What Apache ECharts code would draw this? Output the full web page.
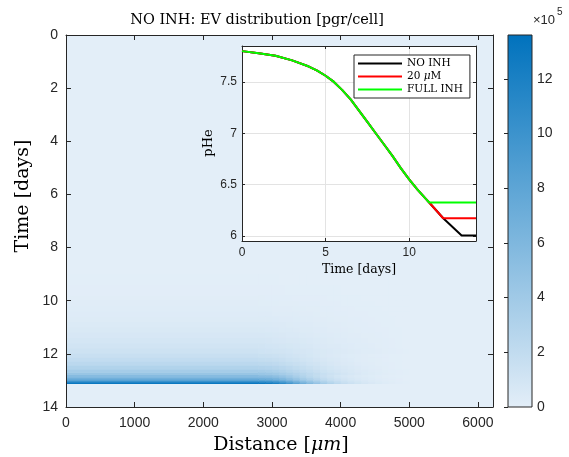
<!DOCTYPE html>
<html>
<head>
<meta charset="utf-8">
<script src="https://cdn.jsdelivr.net/npm/echarts@6/dist/echarts.min.js"></script>
<style>
html,body{margin:0;padding:0;background:#fff;}
#chart{width:569px;height:457px;}
</style>
</head>
<body>
<div id="chart"></div>
<script>
// ---------------- DATA ----------------
// Heatmap: EV distribution (x10^5 pgr/cell). Column edges (um) and row edges (days).
const distEdges = [0, 2800, 2900, 3000, 3100, 3200, 3300, 3400, 3500, 3600, 3700, 3800, 3900,
                   4000, 4100, 4200, 4300, 4400, 4500, 4600, 4700, 4800, 4900, 5000, 6220];
const timeEdges = [9.0, 9.4, 9.8, 10.0, 10.2, 10.4, 10.6, 10.8, 11.0, 11.2, 11.4, 11.6, 11.8, 12.0,
                   12.15, 12.3, 12.45, 12.6, 12.7, 12.8, 12.9, 12.96, 13.02, 13.07, 13.12];
const evValues = [
  [0.03,0.03,0.03,0.03,0.02,0.02,0.02,0.02,0.02,0.02,0.01,0.01,0.01,0.01,0.01,0.01,0.01,0,0,0,0,0,0,0],
  [0.07,0.07,0.07,0.06,0.06,0.05,0.05,0.04,0.04,0.04,0.03,0.03,0.03,0.02,0.02,0.02,0.01,0.01,0.01,0.01,0,0,0,0],
  [0.12,0.12,0.11,0.11,0.10,0.09,0.08,0.08,0.07,0.06,0.06,0.05,0.04,0.04,0.03,0.03,0.02,0.02,0.02,0.01,0.01,0.01,0,0],
  [0.17,0.16,0.16,0.15,0.14,0.13,0.12,0.11,0.10,0.09,0.08,0.07,0.06,0.05,0.05,0.04,0.03,0.03,0.02,0.02,0.01,0.01,0,0],
  [0.23,0.22,0.21,0.20,0.19,0.17,0.16,0.15,0.13,0.12,0.11,0.09,0.08,0.07,0.06,0.05,0.04,0.04,0.03,0.02,0.02,0.01,0,0],
  [0.30,0.29,0.28,0.26,0.25,0.23,0.21,0.19,0.17,0.16,0.14,0.12,0.11,0.09,0.08,0.07,0.06,0.05,0.04,0.03,0.02,0.02,0.01,0],
  [0.38,0.37,0.35,0.33,0.31,0.29,0.27,0.24,0.22,0.20,0.17,0.16,0.14,0.12,0.10,0.09,0.07,0.06,0.05,0.04,0.03,0.02,0.01,0],
  [0.48,0.47,0.45,0.42,0.39,0.36,0.34,0.31,0.28,0.25,0.22,0.20,0.17,0.15,0.13,0.11,0.09,0.08,0.06,0.05,0.03,0.02,0.01,0],
  [0.60,0.58,0.56,0.53,0.49,0.46,0.42,0.38,0.35,0.31,0.28,0.25,0.22,0.19,0.16,0.14,0.11,0.10,0.08,0.06,0.04,0.03,0.01,0],
  [0.74,0.72,0.69,0.65,0.61,0.56,0.52,0.47,0.43,0.38,0.34,0.30,0.27,0.23,0.20,0.17,0.14,0.12,0.10,0.07,0.05,0.04,0.01,0],
  [0.90,0.87,0.84,0.79,0.74,0.68,0.63,0.58,0.52,0.47,0.41,0.37,0.32,0.28,0.24,0.21,0.17,0.14,0.12,0.09,0.06,0.05,0.02,0],
  [1.08,1.05,1.00,0.95,0.89,0.82,0.76,0.69,0.63,0.56,0.50,0.44,0.39,0.33,0.29,0.25,0.21,0.17,0.14,0.11,0.08,0.05,0.02,0],
  [1.30,1.26,1.21,1.14,1.07,0.99,0.91,0.83,0.75,0.68,0.60,0.53,0.47,0.40,0.35,0.30,0.25,0.21,0.17,0.13,0.09,0.07,0.03,0],
  [1.60,1.57,1.52,1.44,1.33,1.20,1.07,0.94,0.82,0.70,0.59,0.50,0.42,0.34,0.27,0.22,0.17,0.13,0.10,0.07,0.04,0.03,0.01,0],
  [1.95,1.91,1.85,1.76,1.62,1.46,1.31,1.15,0.99,0.86,0.72,0.60,0.51,0.41,0.33,0.26,0.20,0.16,0.12,0.08,0.05,0.03,0.01,0],
  [2.40,2.35,2.28,2.16,1.99,1.80,1.61,1.42,1.22,1.06,0.89,0.74,0.62,0.50,0.41,0.32,0.25,0.19,0.14,0.10,0.07,0.04,0.02,0],
  [3.00,2.94,2.85,2.70,2.49,2.25,2.01,1.77,1.53,1.32,1.11,0.93,0.78,0.63,0.51,0.41,0.32,0.24,0.18,0.13,0.08,0.05,0.02,0],
  [3.70,3.63,3.52,3.33,3.07,2.78,2.48,2.18,1.89,1.63,1.37,1.15,0.96,0.78,0.63,0.50,0.39,0.30,0.22,0.16,0.10,0.06,0.03,0],
  [4.50,4.41,4.28,4.05,3.74,3.38,3.02,2.66,2.30,1.98,1.67,1.40,1.17,0.95,0.77,0.61,0.47,0.36,0.27,0.19,0.13,0.07,0.03,0],
  [5.60,5.54,5.43,5.15,4.70,4.14,3.53,2.97,2.46,2.02,1.62,1.29,1.01,0.78,0.62,0.48,0.36,0.27,0.20,0.13,0.08,0.04,0.02,0],
  [6.90,6.83,6.69,6.35,5.80,5.11,4.35,3.66,3.04,2.48,2.00,1.59,1.24,0.97,0.76,0.59,0.45,0.33,0.24,0.17,0.10,0.06,0.02,0],
  [8.30,8.22,8.05,7.64,6.97,6.14,5.23,4.40,3.65,2.99,2.41,1.91,1.49,1.16,0.91,0.71,0.54,0.40,0.29,0.20,0.12,0.07,0.02,0],
  [10.2,10.1,9.89,9.38,8.57,7.55,6.43,5.41,4.49,3.67,2.96,2.35,1.84,1.43,1.12,0.87,0.66,0.49,0.36,0.24,0.15,0.08,0.03,0],
  [13.0,12.9,12.6,12.0,10.9,9.62,8.19,6.89,5.72,4.68,3.77,2.99,2.34,1.82,1.43,1.11,0.85,0.62,0.46,0.31,0.20,0.10,0.04,0]
];
const colorMax = 13.6;            // x10^5
const colorbarTicks = [0, 2, 4, 6, 8, 10, 12];

// Inset: pHe vs time
const noInhTime  = [0,1,2,3,4,4.5,5,5.5,6,6.5,7,7.5,8,8.5,9,9.5,10,10.5,11,11.2,12.04,13.14,14];
const noInhPHe   = [7.80,7.78,7.755,7.71,7.65,7.61,7.56,7.50,7.42,7.33,7.22,7.11,7.00,6.89,6.78,6.66,6.55,6.45,6.36,6.325,6.172,6.004,6.004];
const uM20Time   = [0,1,2,3,4,4.5,5,5.5,6,6.5,7,7.5,8,8.5,9,9.5,10,10.5,11,11.2,12.04,14];
const uM20PHe    = [7.80,7.78,7.755,7.71,7.65,7.61,7.56,7.50,7.42,7.33,7.22,7.11,7.00,6.89,6.78,6.66,6.55,6.45,6.36,6.325,6.172,6.172];
const fullInhTime = [0,1,2,3,4,4.5,5,5.5,6,6.5,7,7.5,8,8.5,9,9.5,10,10.5,11,11.2,14];
const fullInhPHe  = [7.80,7.78,7.755,7.71,7.65,7.61,7.56,7.50,7.42,7.33,7.22,7.11,7.00,6.89,6.78,6.66,6.55,6.45,6.36,6.325,6.325];
const insetYTicks = [6, 6.5, 7, 7.5];
const insetXGrid = [5, 10];

// ---------------- CHART ----------------
const SERIF = '"DejaVu Serif", "Liberation Serif", serif';
const SANS = '"Liberation Sans", Arial, sans-serif';
const AX = '#262626';
const LIGHT = '#e3eef8', DARK = '#0072bd';

const heatData = [];
for (let r = 0; r < evValues.length; r++)
  for (let c = 0; c < evValues[r].length; c++) heatData.push([c, r, evValues[r][c]]);

const zip = (a, b) => a.map((v, i) => [v, b[i]]);
const plain = v => String(v);

function mainAxisCommon(extra) {
  return Object.assign({
    gridIndex: 0, type: 'value', z: 3,
    axisLine: {show: true, onZero: false, lineStyle: {color: AX, width: 1}},
    axisTick: {show: true, inside: true, length: 5, lineStyle: {color: AX}},
    axisLabel: {color: AX, fontFamily: SANS, fontSize: 14, formatter: plain},
    splitLine: {show: false}
  }, extra);
}
function insetAxisCommon(extra) {
  return Object.assign({
    gridIndex: 1, type: 'value', z: 6,
    axisLine: {show: true, onZero: false, lineStyle: {color: AX, width: 1}},
    axisTick: {show: true, inside: true, length: 3, lineStyle: {color: AX}},
    axisLabel: {color: AX, fontFamily: SANS, fontSize: 12, margin: 6, formatter: plain},
    splitLine: {show: false}
  }, extra);
}

const option = {
  animation: false,
  backgroundColor: '#fff',
  grid: [
    {left: 66, top: 35, width: 427, height: 372, show: true, backgroundColor: LIGHT, borderWidth: 0},
    {left: 242, top: 46, width: 234, height: 195, show: true, backgroundColor: '#fff', borderWidth: 0, z: 5},
    {left: 508, top: 35, width: 24, height: 372, show: false}
  ],
  xAxis: [
    mainAxisCommon({min: 0, max: 6220, interval: 1000, position: 'bottom',
      axisLabel: {color: AX, fontFamily: SANS, fontSize: 14, margin: 9, showMaxLabel: false, formatter: plain}}),
    mainAxisCommon({min: 0, max: 6220, interval: 1000, position: 'top', axisLabel: {show: false}}),
    insetAxisCommon({min: 0, max: 14, interval: 5, position: 'bottom',
      axisLabel: {color: AX, fontFamily: SANS, fontSize: 12, margin: 6, showMaxLabel: false, formatter: plain}}),
    insetAxisCommon({min: 0, max: 14, interval: 5, position: 'top', axisLabel: {show: false}}),
    {gridIndex: 2, type: 'value', min: 0, max: 1, show: false}
  ],
  yAxis: [
    mainAxisCommon({min: 0, max: 14, interval: 2, inverse: true, position: 'left',
      axisLabel: {color: AX, fontFamily: SANS, fontSize: 14, margin: 8, formatter: plain}}),
    mainAxisCommon({min: 0, max: 14, interval: 2, inverse: true, position: 'right', axisLabel: {show: false}}),
    insetAxisCommon({min: 5.95, max: 7.85, position: 'left',
      axisTick: {show: true, inside: true, length: 3, lineStyle: {color: AX}, customValues: insetYTicks},
      axisLabel: {color: AX, fontFamily: SANS, fontSize: 12, margin: 5, customValues: insetYTicks, formatter: plain}}),
    insetAxisCommon({min: 5.95, max: 7.85, position: 'right',
      axisTick: {show: true, inside: true, length: 3, lineStyle: {color: AX}, customValues: insetYTicks},
      axisLabel: {show: false}}),
    {gridIndex: 2, type: 'value', min: 0, max: colorMax, position: 'right', z: 3,
      axisLine: {show: false},
      axisTick: {show: true, inside: true, length: 4, lineStyle: {color: AX}, customValues: colorbarTicks},
      axisLabel: {color: AX, fontFamily: SANS, fontSize: 14, margin: 5, customValues: colorbarTicks, formatter: plain},
      splitLine: {show: false}}
  ],
  visualMap: {
    show: false, type: 'continuous', min: 0, max: colorMax, dimension: 2, seriesIndex: 0,
    inRange: {color: [LIGHT, DARK]}
  },
  legend: {
    data: [{name: 'NO INH', icon: 'rect'}, {name: '20 μM', icon: 'rect'}, {name: 'FULL INH', icon: 'rect'}],
    orient: 'vertical', left: 354, top: 55, z: 10,
    itemWidth: 44, itemHeight: 2, itemGap: 2, itemTextGap: 4,
    backgroundColor: '#fff', borderColor: AX, borderWidth: 1, borderRadius: 0,
    padding: [3, 7, 3, 4],
    formatter: function (n) { return n === '20 μM' ? '20 {i|μ}M' : n; },
    textStyle: {fontFamily: SERIF, fontSize: 10.5, color: '#000',
      rich: {i: {fontFamily: SERIF, fontSize: 10.5, fontStyle: 'italic', color: '#000'}}}
  },
  series: [
    {
      type: 'custom', name: 'EV', xAxisIndex: 0, yAxisIndex: 0, z: 2, data: heatData,
      renderItem: function (params, api) {
        const c = api.value(0), r = api.value(1);
        const p0 = api.coord([distEdges[c], timeEdges[r]]);
        const p1 = api.coord([distEdges[c + 1], timeEdges[r + 1]]);
        const x = Math.min(p0[0], p1[0]), y = Math.min(p0[1], p1[1]);
        return {type: 'rect', shape: {x: x, y: y, width: Math.abs(p1[0] - p0[0]) + 0.6, height: Math.abs(p1[1] - p0[1]) + 0.4},
          style: {fill: api.visual('color')}};
      }
    },
    {
      type: 'custom', name: 'colorbar', xAxisIndex: 4, yAxisIndex: 4, z: 2, data: [[0]],
      renderItem: function (params, api) {
        const top = api.coord([0, colorMax]);
        const bot = api.coord([1, 0]);
        return {type: 'rect', shape: {x: top[0], y: top[1], width: bot[0] - top[0], height: bot[1] - top[1]},
          style: {fill: new echarts.graphic.LinearGradient(0, 0, 0, 1, [{offset: 0, color: DARK}, {offset: 1, color: LIGHT}]),
                  stroke: AX, lineWidth: 1}};
      }
    },
    {
      type: 'line', name: 'gridlines', xAxisIndex: 2, yAxisIndex: 2, z: 6, data: [], silent: true,
      markLine: {silent: true, symbol: ['none', 'none'], animation: false, label: {show: false},
        lineStyle: {color: '#e3e3e3', width: 1, type: 'solid'},
        data: insetYTicks.map(v => ({yAxis: v})).concat(insetXGrid.map(v => ({xAxis: v})))}
    },
    {type: 'line', name: 'NO INH', xAxisIndex: 2, yAxisIndex: 2, z: 7, data: zip(noInhTime, noInhPHe),
      showSymbol: false, symbol: 'none', color: '#000000', lineStyle: {width: 2, color: '#000000'}},
    {type: 'line', name: '20 μM', xAxisIndex: 2, yAxisIndex: 2, z: 8, data: zip(uM20Time, uM20PHe),
      showSymbol: false, symbol: 'none', color: '#ff0000', lineStyle: {width: 2, color: '#ff0000'}},
    {type: 'line', name: 'FULL INH', xAxisIndex: 2, yAxisIndex: 2, z: 9, data: zip(fullInhTime, fullInhPHe),
      showSymbol: false, symbol: 'none', color: '#00ff00', lineStyle: {width: 2, color: '#00ff00'}}
  ],
  graphic: [
    {type: 'text', x: 0, y: 0, z: 20, style: {text: 'NO INH: EV distribution [pgr/cell]', x: 257, y: 20,
      align: 'center', verticalAlign: 'middle', font: '14.5px ' + SERIF, fill: '#000'}},
    {type: 'text', x: 0, y: 0, z: 20, style: {x: 281, y: 445, align: 'center', verticalAlign: 'middle',
      text: '{a|Distance [}{b|μm}{a|]}', rich: {
        a: {fontFamily: SERIF, fontSize: 19, fill: '#000'},
        b: {fontFamily: SERIF, fontSize: 19, fontStyle: 'italic', fill: '#000'}}}},
    {type: 'text', x: 23, y: 196, rotation: Math.PI / 2, z: 20, style: {x: 0, y: 0, align: 'center', verticalAlign: 'middle',
      text: 'Time [days]', font: '19px ' + SERIF, fill: '#000'}},
    {type: 'text', x: 209, y: 143, rotation: Math.PI / 2, z: 20, style: {x: 0, y: 0, align: 'center', verticalAlign: 'middle',
      text: 'pHe', font: '13px ' + SERIF, fill: '#000'}},
    {type: 'text', x: 0, y: 0, z: 20, style: {x: 359, y: 270, align: 'center', verticalAlign: 'middle',
      text: 'Time [days]', font: '12.5px ' + SERIF, fill: '#000'}},
    {type: 'text', x: 0, y: 0, z: 20, style: {x: 533, y: 20, align: 'left', verticalAlign: 'middle',
      text: '×10', font: '13px ' + SANS, fill: AX}},
    {type: 'text', x: 0, y: 0, z: 20, style: {x: 557, y: 12, align: 'left', verticalAlign: 'middle',
      text: '5', font: '10px ' + SANS, fill: AX}}
  ]
};

const chart = echarts.init(document.getElementById('chart'), null, {renderer: 'canvas'});
chart.setOption(option);
</script>
</body>
</html>
